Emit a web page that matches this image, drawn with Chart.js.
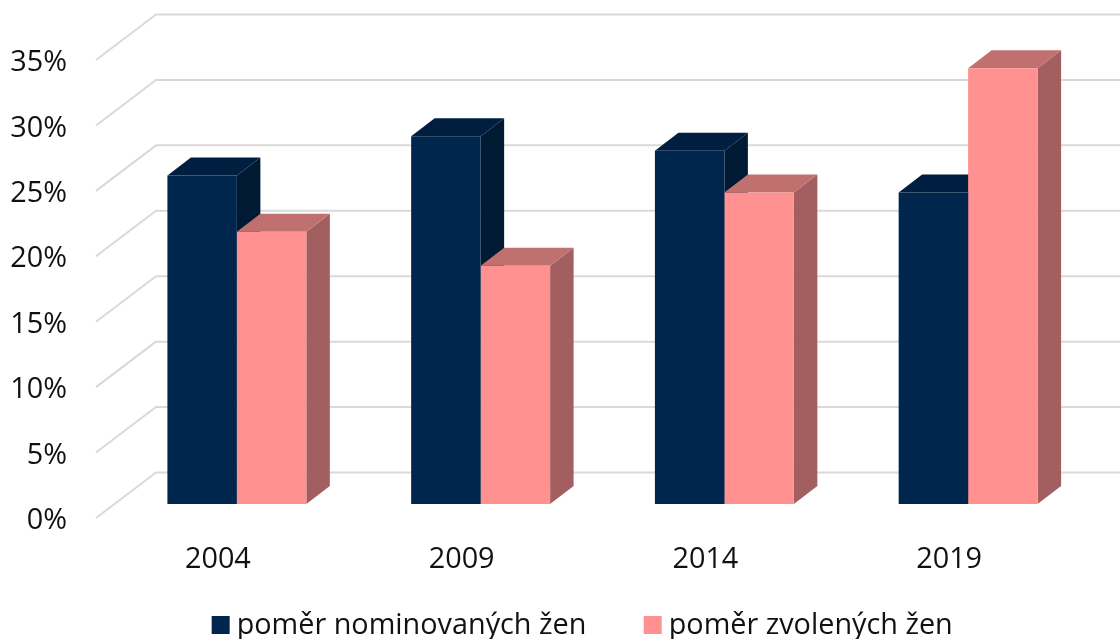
<!DOCTYPE html>
<html>
<head>
<meta charset="utf-8">
<style>html,body{margin:0;padding:0;background:#fff;overflow:hidden}canvas{display:block}</style>
<script src="https://cdn.jsdelivr.net/npm/chart.js@4"></script>
</head>
<body>
<canvas id="c" width="1120" height="639"></canvas>
<script>
const categories = ['2004', '2009', '2014', '2019'];
const nominated = [25.1, 28.1, 27.0, 23.8];
const elected = [20.8, 18.2, 23.8, 33.3];
const seriesNames = ['poměr nominovaných žen', 'poměr zvolených žen'];
const yTicks = [0, 5, 10, 15, 20, 25, 30, 35];

const FONT = '"Open Sans"';
const FONT_SIZE = 28.8;
const TEXT = '#111111';
const LEGEND_BOX = 68;
const PLOT_TOP = 46;
const PLOT_BOTTOM = 504;
const shades = [
  {front: '#00264D', top: '#001F40', side: '#001A33'},
  {front: '#FF9191', top: '#C17070', side: '#A35F5F'}
];
let legendShift = 8.5;

const depth3d = {
  id: 'depth3d',
  afterLayout(chart) {
    const y = chart.scales.y;
    y.top = PLOT_TOP;
    y.bottom = PLOT_BOTTOM;
    y.height = PLOT_BOTTOM - PLOT_TOP;
    y.configure();
  },
  beforeDraw(chart) {
    const lg = chart.legend;
    lg.left += legendShift;
    lg.right += legendShift;
    lg.top = 611;
  },
  beforeDatasetsDraw(chart) {
    const ctx = chart.ctx, y = chart.scales.y;
    ctx.save();
    ctx.strokeStyle = '#D9D9D9';
    ctx.lineWidth = 2;
    ctx.lineJoin = 'round';
    yTicks.forEach(v => {
      const p = y.getPixelForValue(v);
      ctx.beginPath();
      ctx.moveTo(96, p + 14);
      ctx.lineTo(156, p - 31.5);
      ctx.lineTo(chart.width, p - 31.5);
      ctx.stroke();
    });
    const dx = 23.5, dy = 18;
    const poly = (pts, color) => {
      ctx.fillStyle = color;
      ctx.beginPath();
      pts.forEach((q, i) => i ? ctx.lineTo(q[0], q[1]) : ctx.moveTo(q[0], q[1]));
      ctx.closePath();
      ctx.fill();
    };
    categories.forEach((_, i) => {
      [0, 1].forEach(d => {
        const b = chart.getDatasetMeta(d).data[i];
        const l = b.x - b.width / 2, r = b.x + b.width / 2, t = b.y, base = b.base;
        poly([[r, t], [r + dx, t - dy], [r + dx, base - dy], [r, base]], shades[d].side);
        poly([[l, t], [l + dx, t - dy], [r + dx, t - dy], [r, t]], shades[d].top);
      });
    });
    ctx.restore();
  },
  afterDraw(chart) {
    const ctx = chart.ctx, lg = chart.legend;
    ctx.save();
    lg.legendHitBoxes.forEach((h, d) => {
      ctx.fillStyle = shades[d].front;
      const textStart = h.left + legendShift + LEGEND_BOX + FONT_SIZE / 2;
      ctx.fillRect(textStart - 25, 616, 18, 18);
    });
    ctx.restore();
  }
};

new Chart(document.getElementById('c'), {
  type: 'bar',
  plugins: [depth3d],
  data: {
    labels: categories,
    datasets: [
      {label: seriesNames[0], data: nominated, backgroundColor: shades[0].front, borderWidth: 0},
      {label: seriesNames[1], data: elected, backgroundColor: shades[1].front, borderWidth: 0}
    ]
  },
  options: {
    responsive: false,
    animation: false,
    devicePixelRatio: 1,
    layout: {padding: {left: 0, right: 30, top: 46, bottom: 0}},
    datasets: {bar: {categoryPercentage: 0.57, barPercentage: 1}},
    scales: {
      x: {
        grid: {display: false},
        border: {display: false},
        ticks: {font: {family: FONT, size: FONT_SIZE}, color: TEXT, padding: 30, labelOffset: -19, maxRotation: 0},
        afterFit(s) { s.height = 96; }
      },
      y: {
        min: 0, max: 35,
        grid: {display: false},
        border: {display: false},
        ticks: {
          stepSize: 5,
          font: {family: FONT, size: FONT_SIZE},
          color: TEXT,
          padding: 40,
          labelOffset: 17,
          callback: v => v + '%'
        },
        afterFit(s) { s.width = 115; }
      }
    },
    plugins: {
      tooltip: {enabled: false},
      legend: {
        position: 'bottom',
        labels: {
          boxWidth: LEGEND_BOX,
          padding: 0,
          color: TEXT,
          font: {family: FONT, size: FONT_SIZE},
          generateLabels: chart => chart.data.datasets.map((d, i) => ({
            text: d.label, fillStyle: 'rgba(0,0,0,0)', strokeStyle: 'rgba(0,0,0,0)',
            lineWidth: 0, datasetIndex: i, fontColor: TEXT
          }))
        }
      }
    }
  }
});
</script>
</body>
</html>
